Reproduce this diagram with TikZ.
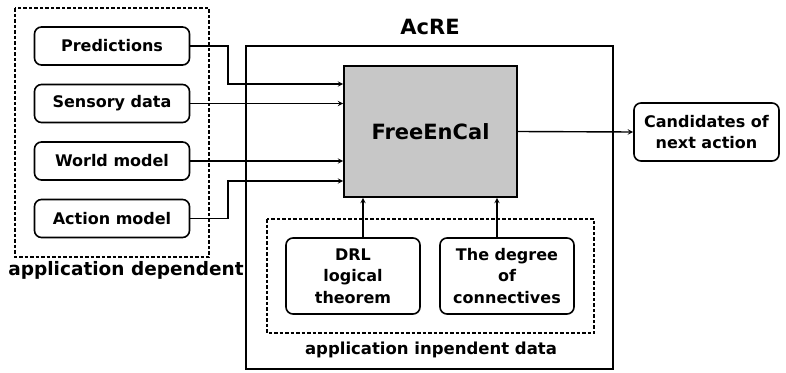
\documentclass[tikz,border=0pt]{standalone}
\usepackage{fontspec}
\setmainfont{DejaVu Sans}
\usepackage{tikz}
\usetikzlibrary{arrows}
\tikzstyle{databox} = [rectangle, rounded corners=7pt, minimum width=155pt, minimum height=38pt,
    text centered, draw=black, line width=1.6pt, font=\bfseries\fontsize{16}{21}\selectfont]
\tikzstyle{theorybox} = [rectangle, rounded corners=7pt, minimum width=134pt, minimum height=76pt,
    text centered, align=center, draw=black, line width=1.6pt, font=\bfseries\fontsize{16}{21.5}\selectfont]
\tikzstyle{engine} = [rectangle, minimum width=173pt, minimum height=131pt,
    draw=black, line width=1.6pt, fill=black!22, font=\bfseries\fontsize{21}{24}\selectfont]
\tikzstyle{group} = [draw=black, line width=1.3pt, dash pattern=on 3.5pt off 2pt]
\tikzstyle{caption} = [font=\bfseries\fontsize{16.5}{19}\selectfont]
\tikzstyle{arrow} = [line width=1.4pt,->,>=stealth]

\begin{document}
\begin{tikzpicture}[x=1pt, y=-1pt]
                \useasboundingbox (0,0) rectangle (786,372);

                % inputs on the left
                \node (pred) [databox] at (112,46) {Predictions};
                \node (sens) [databox, below of=pred, node distance=57.5pt] {Sensory data};
                \node (world) [databox, below of=sens, node distance=57.5pt] {World model};
                \node (act) [databox, below of=world, node distance=57.5pt] {Action model};
                \draw [group] (15,8) rectangle (209,257);
                \node (dep) [caption, font=\bfseries\fontsize{18.5}{21}\selectfont] at (126,270) {application dependent};

                % the reasoning engine
                \draw [line width=1.6pt] (246,46) rectangle (613,369);
                \node (acre) [caption, font=\bfseries\fontsize{21}{24}\selectfont] at (430,27) {AcRE};
                \node (fec) [engine] at (430.5,131.5) {FreeEnCal};
                \coordinate (bendA) at (228,84);
                \coordinate (bendB) at (228,181);

                % independent data below the engine
                \node (drl) [theorybox] at (353,276) {DRL\\logical\\theorem};
                \node (deg) [theorybox] at (507,276) {The degree\\of\\connectives};
                \draw [group] (267,219) rectangle (594,333);
                \node (indep) [caption] at (431,350) {application inpendent data};

                % output
                \node (cand) [databox, minimum width=145pt, minimum height=58pt, align=center] at (706.5,132) {Candidates of\\next action};

                \draw [arrow] (pred.east) -| (bendA) -- (bendA -| fec.west);
                \draw [arrow] (sens.east) -- (sens.east -| fec.west);
                \draw [arrow] (world.east) -- (world.east -| fec.west);
                \draw [arrow] (act.east) -| (bendB) -- (bendB -| fec.west);
                \draw [arrow] ([xshift=10pt]drl.north) -- ([xshift=10pt]drl.north |- fec.south);
                \draw [arrow] ([xshift=-10pt]deg.north) -- ([xshift=-10pt]deg.north |- fec.south);
                \draw [arrow] (fec.east) -- (cand.west);
            \end{tikzpicture}
\end{document}
